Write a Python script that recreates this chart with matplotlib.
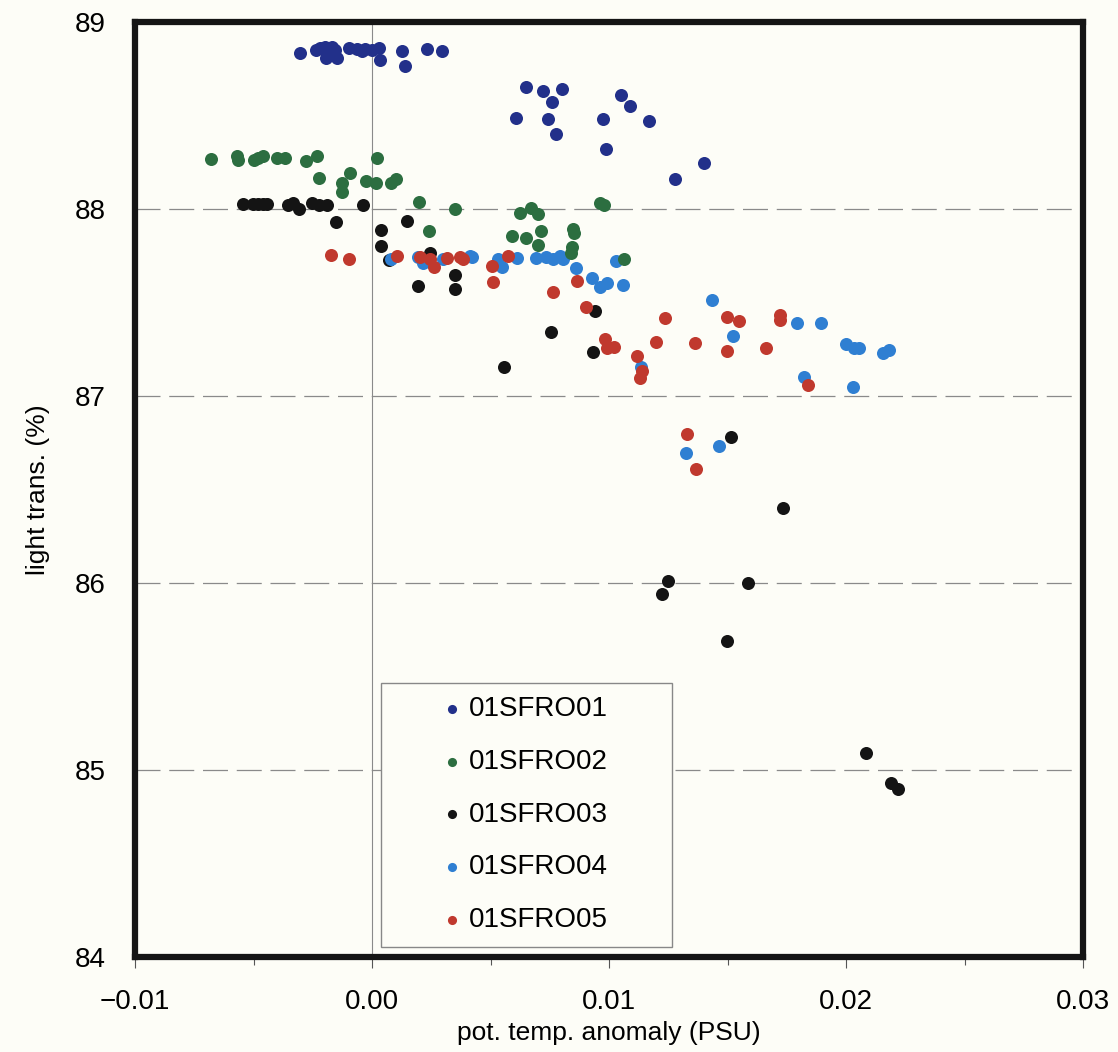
import matplotlib
matplotlib.use('Agg')
import matplotlib.pyplot as plt
from matplotlib.ticker import MultipleLocator

plt.rcParams['font.family'] = ['Liberation Sans', 'DejaVu Sans']

# data
names = ['01SFRO01', '01SFRO02', '01SFRO03', '01SFRO04', '01SFRO05']
colors = ['#22308a', '#2c6e40', '#141414', '#2f7fd2', '#c0392e']

s1_x = [-0.00304, -0.00236, -0.00219, -0.00198, -0.00186, -0.00169, -0.00156, -0.00148,
        -0.00194, -0.00097, -0.00063, -0.00042, -0.00030, 0.00000, 0.00030, 0.00034,
        0.00127, 0.00139, 0.00232, 0.00295, 0.00649, 0.00723, 0.00800, 0.00758,
        0.00608, 0.00744, 0.00775, 0.01049, 0.01089, 0.00976, 0.01170, 0.00987,
        0.01276, 0.01401]
s1_y = [88.834, 88.850, 88.861, 88.866, 88.840, 88.866, 88.850, 88.807,
        88.807, 88.861, 88.856, 88.845, 88.856, 88.850, 88.861, 88.797,
        88.845, 88.765, 88.856, 88.845, 88.654, 88.633, 88.642, 88.574,
        88.485, 88.483, 88.403, 88.611, 88.551, 88.481, 88.471, 88.321,
        88.160, 88.248]

s2_x = [-0.00681, -0.00568, -0.00564, -0.00498, -0.00480, -0.00459, -0.00402, -0.00367,
        -0.00278, -0.00231, 0.00020, -0.00224, -0.00093, -0.00128, -0.00128, -0.00027,
        0.00017, 0.00079, 0.00100, 0.00197, 0.00351, 0.00241, 0.00624, 0.00670,
        0.00700, 0.00962, 0.00979, 0.00591, 0.00649, 0.00713, 0.00849, 0.00852,
        0.00700, 0.00844, 0.00838, 0.01063]
s2_y = [88.266, 88.283, 88.262, 88.262, 88.271, 88.283, 88.271, 88.271,
        88.258, 88.283, 88.271, 88.164, 88.191, 88.141, 88.093, 88.151,
        88.141, 88.141, 88.159, 88.039, 87.998, 87.882, 87.977, 88.004,
        87.973, 88.030, 88.020, 87.857, 87.843, 87.884, 87.893, 87.873,
        87.806, 87.798, 87.763, 87.731]

s3_x = [-0.00546, -0.00503, -0.00480, -0.00459, -0.00442, -0.00353, -0.00332, -0.00308,
        -0.00254, -0.00222, -0.00189, -0.00037, -0.00152, 0.00037, 0.00146, 0.00037,
        0.00073, 0.00245, 0.00350, 0.00195, 0.00350, 0.00941, 0.00755, 0.00931,
        0.00558, 0.01515, 0.01733, 0.01250, 0.01224, 0.01584, 0.01499, 0.02084,
        0.02189, 0.02217]
s3_y = [88.025, 88.025, 88.025, 88.025, 88.025, 88.021, 88.030, 87.998,
        88.030, 88.021, 88.021, 88.021, 87.930, 87.888, 87.936, 87.802,
        87.727, 87.763, 87.647, 87.588, 87.571, 87.455, 87.344, 87.234,
        87.157, 86.782, 86.399, 86.012, 85.941, 86.002, 85.691, 85.089,
        84.929, 84.897]

s4_x = [0.00080, 0.00195, 0.00214, 0.00301, 0.00414, 0.00421, 0.00533, 0.00547,
        0.00611, 0.00692, 0.00734, 0.00762, 0.00793, 0.00807, 0.00859, 0.00928,
        0.00962, 0.00990, 0.01060, 0.01030, 0.01436, 0.01135, 0.01522, 0.01792,
        0.01893, 0.02000, 0.02034, 0.02055, 0.02155, 0.02179, 0.01823, 0.02027,
        0.01465, 0.01325]
s4_y = [87.731, 87.742, 87.710, 87.731, 87.749, 87.745, 87.733, 87.688,
        87.736, 87.736, 87.745, 87.733, 87.749, 87.733, 87.683, 87.633,
        87.585, 87.603, 87.594, 87.724, 87.513, 87.157, 87.321, 87.392,
        87.392, 87.278, 87.258, 87.258, 87.228, 87.246, 87.100, 87.050,
        86.733, 86.694]

s5_x = [-0.00173, -0.00097, 0.00104, 0.00203, 0.00245, 0.00262, 0.00315, 0.00371,
        0.00385, 0.00505, 0.00573, 0.00509, 0.00866, 0.00765, 0.00903, 0.00983,
        0.00990, 0.01021, 0.01119, 0.01139, 0.01131, 0.01198, 0.01238, 0.01363,
        0.01497, 0.01547, 0.01722, 0.01722, 0.01498, 0.01662, 0.01841, 0.01328,
        0.01367]
s5_y = [87.752, 87.731, 87.749, 87.745, 87.731, 87.688, 87.736, 87.745,
        87.731, 87.697, 87.749, 87.608, 87.617, 87.555, 87.478, 87.303,
        87.255, 87.264, 87.216, 87.135, 87.095, 87.290, 87.416, 87.282,
        87.421, 87.399, 87.432, 87.406, 87.242, 87.258, 87.061, 86.795,
        86.611]

xs = [s1_x, s2_x, s3_x, s4_x, s5_x]
ys = [s1_y, s2_y, s3_y, s4_y, s5_y]
zorders = [6, 5, 2, 3, 4]

xtick_vals = [-0.01, 0.00, 0.01, 0.02, 0.03]
xtick_labels = ['\u22120.01', '0.00', '0.01', '0.02', '0.03']
ytick_vals = [84, 85, 86, 87, 88, 89]
grid_y = [85, 86, 87, 88]

bg = '#fdfdf7'
fig = plt.figure(figsize=(11.18, 10.52), dpi=100, facecolor=bg)
ax = fig.add_axes([0.1208, 0.0903, 0.848, 0.8888], facecolor=bg)

for gy in grid_y:
    ax.axhline(gy, color='#8a8a8a', lw=0.9, linestyle=(0, (20, 7)), zorder=1)
ax.axvline(0, color='#8a8a8a', lw=0.8, zorder=1)

for x, y, c, n, z in zip(xs, ys, colors, names, zorders):
    ax.scatter(x, y, s=88, color=c, label=n, zorder=z, linewidths=0)

ax.set_xlim(-0.01, 0.03)
ax.set_ylim(84, 89)
ax.set_xticks(xtick_vals)
ax.set_xticklabels(xtick_labels)
ax.xaxis.set_minor_locator(MultipleLocator(0.005))
ax.set_yticks(ytick_vals)

for sp in ax.spines.values():
    sp.set_linewidth(4.5)
    sp.set_color('#151515')

ax.tick_params(axis='x', which='major', direction='out', length=8, width=0.8,
               color='#555555', labelsize=20, pad=15)
ax.tick_params(axis='x', which='minor', direction='out', length=6, width=0.8,
               color='#555555')
ax.tick_params(axis='y', length=0, labelsize=20, pad=21)

ax.set_xlabel('pot. temp. anomaly (PSU)', fontsize=19, labelpad=4)
ax.set_ylabel('light trans. (%)', fontsize=19, labelpad=18)

leg = ax.legend(loc='lower left', bbox_to_anchor=(0.2595, 0.0107, 0.307, 0.2877),
                mode='expand', borderaxespad=0, fontsize=20, markerscale=0.7,
                handlelength=4.1, handletextpad=-1.44, borderpad=0.5,
                labelspacing=0.96, fancybox=False, framealpha=1, facecolor=bg,
                edgecolor='#888888')
leg.get_frame().set_linewidth(1.0)
leg.set_zorder(10)

fig.savefig('out.png', dpi=100, facecolor=bg)
